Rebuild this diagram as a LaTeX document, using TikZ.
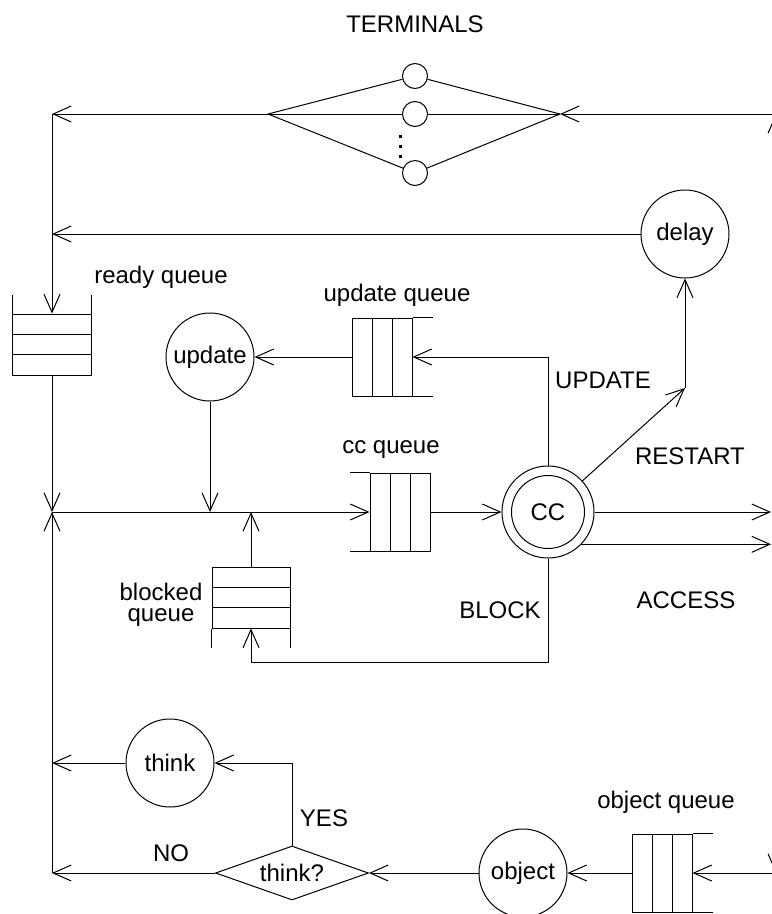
\documentclass[tikz,border=0pt]{standalone}
\usepackage{fontspec}
\setmainfont{Liberation Sans}
\usetikzlibrary{arrows.meta, shapes.geometric}
\tikzset{
	servernode/.style={
			circle,
			draw=black,
			minimum size=44bp,
			inner sep=0pt,
			font=\fontsize{12bp}{14bp}\selectfont
		},
	terminalnode/.style={
			circle,
			draw=black,
			minimum size=12.5bp,
			inner sep=0pt
		},
	hqueuenode/.style={
			rectangle,
			draw=black,
			minimum width=30bp,
			minimum height=39bp,
			inner sep=0pt
		},
	vqueuenode/.style={
			rectangle,
			draw=black,
			minimum width=39bp,
			minimum height=30.5bp,
			inner sep=0pt
		},
	decisionnode/.style={
			diamond,
			draw=black,
			aspect=2.8,
			minimum width=76.5bp,
			minimum height=27bp,
			inner sep=0pt,
			font=\fontsize{12bp}{14bp}\selectfont
		},
	labelnode/.style={
			inner sep=0pt,
			align=center,
			font=\fontsize{12bp}{10.5bp}\selectfont
		},
	flow/.style={-{Straight Barb[length=9bp,width=8bp]}}
}

\begin{document}
\begin{tikzpicture}[x=0.5bp, y=-0.5bp, line width=0.5bp]
  \useasboundingbox (0,0) rectangle (772,914);
  \clip (0,0) rectangle (772,914);

  % terminals
  \node[terminalnode] (t1) at (415,76) {};
  \node[terminalnode] (t2) at (415,114) {};
  \node[terminalnode] (t3) at (415,173) {};
  \coordinate (tl) at (268,114);
  \coordinate (tr) at (560,114);
  \foreach \t in {t1,t2,t3} \draw (tl) -- (\t) -- (tr);
  \foreach \y in {136,146,156} \fill (398.5,\y) ++(0,-1.5) rectangle ++(3,3);

  % service centers
  \node[servernode] (dly) at (685,234) {delay};
  \node[servernode] (upd) at (210,357) {update};
  \node[servernode] (thk) at (170,763) {think};
  \node[servernode] (obj) at (523,873) {object};
  \node[circle, draw=black, minimum size=46bp, inner sep=0pt] (cc) at (548,512) {};
  \node[servernode, minimum size=36.5bp] (cci) at (cc) {CC};
  \node[decisionnode] (dec) at (292,873) {think?};

  % queues
  \node[vqueuenode] (rq) at (52,344.5) {};
  \node[hqueuenode] (uq) at (382,357) {};
  \node[hqueuenode] (ccq) at (400,512) {};
  \node[vqueuenode] (bq) at (251,597.5) {};
  \node[hqueuenode] (oq) at (662,873) {};

  \foreach \y in {334.5,354.5} \draw (13,\y) -- (91,\y);
  \foreach \y in {587.5,607.5} \draw (212,\y) -- (290,\y);
  \foreach \x in {372,392} \draw (\x,318) -- (\x,396);
  \foreach \x in {390,410} \draw (\x,473) -- (\x,551);
  \foreach \x in {652,672} \draw (\x,834) -- (\x,912);

  \draw (rq.north west) -- ++(0,-19) (rq.north east) -- ++(0,-19);
  \draw (bq.south west) -- ++(0,19) (bq.south east) -- ++(0,19);
  \draw (uq.north east) -- ++(20,0) (uq.south east) -- ++(20,0);
  \draw (ccq.north west) -- ++(-20,0) (ccq.south west) -- ++(-20,0);
  \draw (oq.north east) -- ++(20,0) (oq.south east) -- ++(20,0);

  % bends and joins
  \coordinate (ctl) at (52,114);
  \coordinate (c2) at (52,234);
  \coordinate (mj) at (52,512);
  \coordinate (j1) at (210,512);
  \coordinate (j2) at (251,512);
  \coordinate (ct) at (52,763);
  \coordinate (cbl) at (52,873);
  \coordinate (rs) at (685,388);
  \coordinate (bk) at (548,662);
  \coordinate (ae) at (771,512);
  \coordinate (ctr) at (776,114);
  \coordinate (ctr0) at (776,200);
  \coordinate (cbr) at (776,873);
  \coordinate (cbr0) at (776,780);

  \draw[flow] (ctr0) -- (ctr);
  \draw[flow] (ctr) -- (tr);
  \draw[flow] (tl) -- (ctl);
  \draw[flow] (ctl) -- (rq.north);
  \draw[flow] (dly) -- (c2);
  \draw[flow] (rq.south) -- (mj);
  \draw[flow] (cbl) -- (mj);
  \draw[flow] (mj) -- (ccq.west);
  \draw[flow] (ccq.east) -- (cc);
  \draw[flow] (cc.north) |- (uq.east);
  \draw[flow] (uq.west) -- (upd);
  \draw[flow] (upd) -- (j1);
  \draw[flow] (cc) -- (rs);
  \draw[flow] (rs) -- (dly);
  \draw[flow] (cc.east) -- (ae);
  \draw[flow] (cc.-44) -- (cc.-44 -| ae);
  \draw[flow] (cc.south) -- (bk) -| (bq.south);
  \draw[flow] (bq.north) -- (j2);
  \draw[flow] (cbr0) -- (cbr);
  \draw[flow] (cbr) -- (oq.east);
  \draw[flow] (oq.west) -- (obj);
  \draw[flow] (obj) -- (dec.east);
  \draw[flow] (dec.west) -- (cbl);
  \draw[flow] (dec.north) |- (thk);
  \draw[flow] (thk) -- (ct);

  % labels
  \node[labelnode] (lterm) at (415,24) {TERMINALS};
  \node[labelnode] (lrq) at (161,277) {ready queue};
  \node[labelnode] (luq) at (397,295) {update queue};
  \node[labelnode] (lccq) at (391,450) {cc queue};
  \node[labelnode] (lbq) at (161,605) {blocked\\queue};
  \node[labelnode] (loq) at (666,802) {object queue};
  \node[labelnode] (lupd) at (603,380) {UPDATE};
  \node[labelnode] (lrs) at (690,456) {RESTART};
  \node[labelnode] (lacc) at (686,600) {ACCESS};
  \node[labelnode] (lblk) at (500,610) {BLOCK};
  \node[labelnode] (lyes) at (324,818) {YES};
  \node[labelnode] (lno) at (171,853) {NO};

\end{tikzpicture}
\end{document}
